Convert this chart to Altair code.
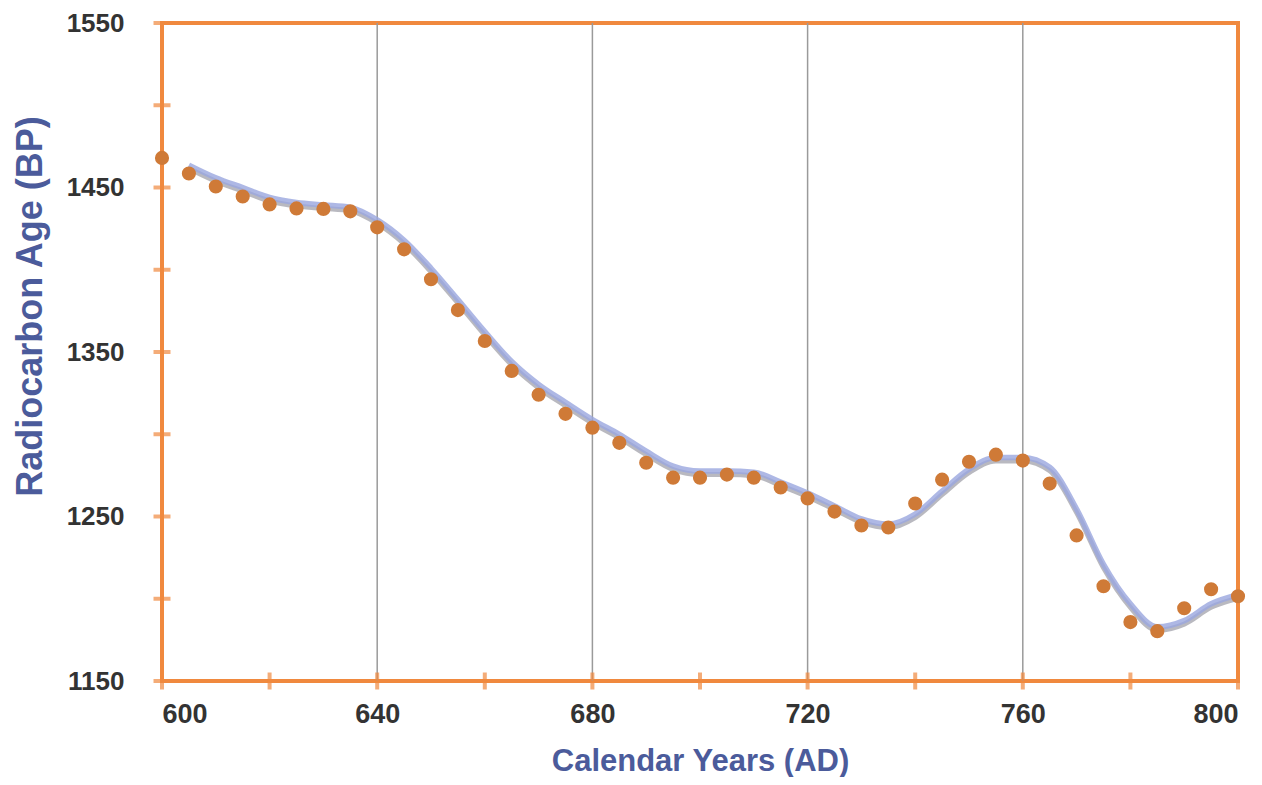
import altair as alt
import pandas as pd

# Measured radiocarbon ages (dots)
dot_years = [600, 605, 610, 615, 620, 625, 630, 635, 640, 645, 650, 655, 660, 665,
             670, 675, 680, 685, 690, 695, 700, 705, 710, 715, 720, 725, 730, 735,
             740, 745, 750, 755, 760, 765, 770, 775, 780, 785, 790, 795, 800]
dot_bp = [1468, 1458.5, 1450.6, 1444.5, 1439.7, 1437.3, 1437, 1435.5, 1425.8, 1412.4,
          1394.2, 1375.5, 1356.7, 1338.5, 1324, 1312.4, 1304, 1294.8, 1282.7, 1273.6,
          1273.6, 1275.5, 1273.6, 1267.6, 1261, 1253, 1244.5, 1243.3, 1257.9, 1272.4,
          1283.3, 1287.6, 1284, 1270, 1238.5, 1207.6, 1185.8, 1180.3, 1194.2, 1205.8,
          1201.5]

# Calibration curve
curve_years = [605, 610, 615, 620, 625, 630, 635, 640, 645, 650, 655, 660, 665, 670,
               675, 680, 685, 690, 695, 700, 705, 710, 715, 720, 725, 730, 735, 740,
               745, 750, 755, 760, 765, 770, 775, 780, 785, 790, 795, 800]
curve_bp = [1462.7, 1455, 1449, 1443, 1440, 1438.5, 1437, 1429.4, 1417, 1400, 1381,
            1361.5, 1343.3, 1329.4, 1318.5, 1308, 1299, 1288.8, 1279.7, 1276.7, 1276.7,
            1276, 1270, 1263.3, 1255.5, 1247.6, 1244.5, 1250.6, 1264.5, 1277.9, 1285,
            1285, 1279, 1253.6, 1220, 1196, 1182, 1185.8, 1196, 1201.5]

x_label_values = [600, 640, 680, 720, 760, 800]
x_grid_values = [640, 680, 720, 760]
y_label_values = [1150, 1250, 1350, 1450, 1550]
x_tick_values = [600, 620, 640, 660, 680, 700, 720, 740, 760, 780, 800]
y_tick_values = [1150, 1200, 1250, 1300, 1350, 1400, 1450, 1500, 1550]

ORANGE = "#F0893E"
DOT = "#CF7A37"
TITLE = "#4B5B9B"
FONT = "Liberation Sans"

xs = alt.Scale(domain=[600, 800], nice=False)
ys = alt.Scale(domain=[1150, 1550], nice=False, zero=False)

dots_df = pd.DataFrame({"year": dot_years, "bp": dot_bp})
curve_df = pd.DataFrame({"year": curve_years, "bp": curve_bp})
xt_df = pd.DataFrame({"year": x_tick_values})
yt_df = pd.DataFrame({"bp": y_tick_values})
grid_df = pd.DataFrame({"year": x_grid_values})

x_axis = alt.Axis(
    values=x_label_values, format="d", grid=False,
    domain=False, ticks=False, labelFont=FONT, labelFontSize=27, labelFontWeight="bold",
    labelColor="#333333", labelPadding=20, labelBaseline="top",
    title="Calendar Years (AD)", titleFont=FONT, titleFontSize=31, titleFontWeight="bold",
    titleColor=TITLE, titleBaseline="middle", titleY=80, titleAlign="center",
)
y_axis = alt.Axis(
    values=y_label_values, format="d", grid=False, domain=False, ticks=False,
    labelFont=FONT, labelFontSize=26, labelFontWeight="bold", labelColor="#333333",
    labelPadding=38, labelBaseline="middle",
    title="Radiocarbon Age (BP)", titleFont=FONT, titleFontSize=36, titleFontWeight="bold",
    titleColor=TITLE, titleAngle=-90, titleAlign="center", titleBaseline="middle",
    titleX=-132, titleY=283,
)

grid = alt.Chart(grid_df).mark_rule(color="#9a9a9a", strokeWidth=1.5).encode(
    x=alt.X("year:Q", scale=xs)
)

dots = alt.Chart(dots_df).mark_circle(size=200, color=DOT, opacity=1).encode(
    x=alt.X("year:Q", scale=xs, axis=x_axis),
    y=alt.Y("bp:Q", scale=ys, axis=y_axis),
)

curve_shadow = alt.Chart(curve_df).mark_line(
    color="#a8a8b0", strokeWidth=5, yOffset=2, interpolate="monotone", opacity=0.8
).encode(x=alt.X("year:Q", scale=xs), y=alt.Y("bp:Q", scale=ys))

curve = alt.Chart(curve_df).mark_line(
    color="#9aa6de", strokeWidth=5.5, yOffset=-1.5, interpolate="monotone", opacity=0.8
).encode(x=alt.X("year:Q", scale=xs), y=alt.Y("bp:Q", scale=ys))

x_ticks = alt.Chart(xt_df).mark_tick(
    color=ORANGE, orient="vertical", size=17, thickness=4, clip=False
).encode(x=alt.X("year:Q", scale=xs), y=alt.datum(1150))

y_ticks = alt.Chart(yt_df).mark_tick(
    color=ORANGE, orient="horizontal", size=17, thickness=4, clip=False
).encode(y=alt.Y("bp:Q", scale=ys), x=alt.datum(600))

chart = (
    alt.layer(grid, curve_shadow, curve, dots, x_ticks, y_ticks)
    .properties(
        width=1076,
        height=658,
        autosize=alt.AutoSizeParams(type="none"),
        padding={"left": 154, "top": 15, "right": 16, "bottom": 96},
        background="white",
    )
    .configure_view(stroke=ORANGE, strokeWidth=4)
)

chart.save("out.html", embed_options={"renderer": "svg", "actions": False})
